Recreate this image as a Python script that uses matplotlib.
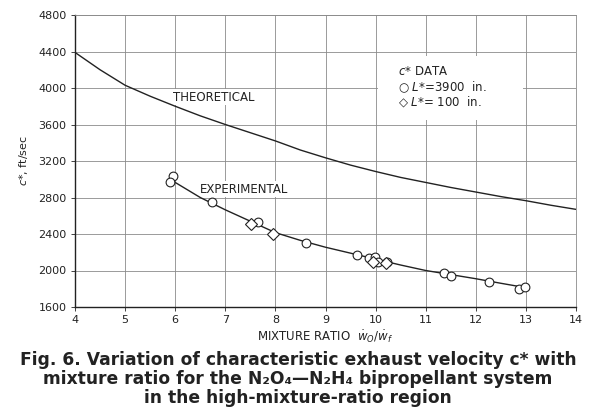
import matplotlib
matplotlib.use("Agg")
import matplotlib.pyplot as plt
from matplotlib.patches import Rectangle

# Theoretical curve
theo_x = [4, 4.5, 5, 5.5, 6, 6.5, 7, 7.5, 8, 8.5, 9, 9.5, 10, 10.5, 11, 11.5, 12, 12.5, 13, 13.5, 14]
theo_y = [4390, 4200, 4030, 3910, 3800, 3695, 3600, 3510, 3420, 3320, 3235, 3155, 3085, 3020,
          2965, 2910, 2860, 2810, 2765, 2715, 2670]

# Experimental faired curve
exp_x = [5.97, 6.5, 7, 7.5, 8, 8.5, 9, 9.5, 10, 10.5, 11, 11.5, 12, 12.5, 13]
exp_y = [2975, 2800, 2665, 2540, 2415, 2330, 2255, 2190, 2125, 2060, 2000, 1955, 1910, 1860, 1812]

# Data: L* = 3900 in. (circles)
circ_x = [5.96, 5.90, 6.73, 7.65, 8.62, 9.62, 9.87, 9.99, 10.05, 10.22, 11.37, 11.50, 12.27, 12.87, 12.98]
circ_y = [3040, 2975, 2754, 2531, 2305, 2170, 2133, 2151, 2096, 2096, 1976, 1943, 1877, 1797, 1816]

# Data: L* = 100 in. (diamonds)
diam_x = [7.51, 7.96, 9.94, 10.21]
diam_y = [2506, 2400, 2096, 2079]

xticks = [4, 5, 6, 7, 8, 9, 10, 11, 12, 13, 14]
yticks = [1600, 2000, 2400, 2800, 3200, 3600, 4000, 4400, 4800]

INK = "#222222"

fig = plt.figure(figsize=(5.96, 4.16), dpi=100)
ax = fig.add_axes([75/596, 1 - 307/416, 501/596, 292/416])

ax.set_xlim(4, 14)
ax.set_ylim(1600, 4800)
ax.set_xticks(xticks)
ax.set_yticks(yticks)
ax.set_xticklabels([str(t) for t in xticks])
ax.set_yticklabels([str(t) for t in yticks])
ax.grid(True, color="#8a8a8a", lw=0.6, zorder=0)
ax.set_axisbelow(True)
for s in ["top", "right"]:
    ax.spines[s].set_color("#8a8a8a")
    ax.spines[s].set_linewidth(0.6)
for s in ["left", "bottom"]:
    ax.spines[s].set_color(INK)
    ax.spines[s].set_linewidth(1.0)
ax.tick_params(axis="both", labelsize=8, length=3, width=0.6, colors=INK, pad=3)

ax.plot(theo_x, theo_y, color=INK, lw=1.0, zorder=3)
ax.plot(exp_x, exp_y, color=INK, lw=1.0, zorder=3)
ax.plot(circ_x, circ_y, linestyle="none", marker="o", ms=6.3, mfc="white", mec=INK, mew=0.8, zorder=4)
ax.plot(diam_x, diam_y, linestyle="none", marker="D", ms=6.3, mfc="white", mec=INK, mew=0.8, zorder=4)

ax.text(5.95, 3900, "THEORETICAL", fontsize=8.5, color=INK, va="center", ha="left",
        bbox=dict(facecolor="white", edgecolor="none", pad=1), zorder=2)
ax.text(6.5, 2893, "EXPERIMENTAL", fontsize=8.5, color=INK, va="center", ha="left",
        bbox=dict(facecolor="white", edgecolor="none", pad=1), zorder=2)

ax.add_patch(Rectangle((10.05, 3650), 2.9, 700, facecolor="white", edgecolor="none", zorder=1))
ax.text(10.45, 4180, "$\\mathit{c}$* DATA", fontsize=8.5, color=INK, va="center", ha="left", zorder=5)
ax.text(10.45, 4007, "\u25CB $\\mathit{L}$*=3900  in.", fontsize=8.5, color=INK, va="center", ha="left", zorder=5)
ax.text(10.45, 3851, "\u25C7 $\\mathit{L}$*= 100  in.", fontsize=8.5, color=INK, va="center", ha="left", zorder=5)

ax.set_ylabel("$\\mathit{c}$*, ft/sec", fontsize=8, color=INK, labelpad=6)
ax.set_xlabel("MIXTURE RATIO  $\\dot{w}_O/\\dot{w}_f$", fontsize=8.5, color=INK, labelpad=2)

caption = ("Fig. 6. Variation of characteristic exhaust velocity c* with\n"
           "mixture ratio for the N\u2082O\u2084\u2014N\u2082H\u2084 bipropellant system\n"
           "in the high-mixture-ratio region")
fig.text(0.5, 1 - 379/416, caption, ha="center", va="center", fontsize=12.3,
         fontweight="bold", color=INK, linespacing=1.05)

fig.savefig("out.png", dpi=100, facecolor="white")
